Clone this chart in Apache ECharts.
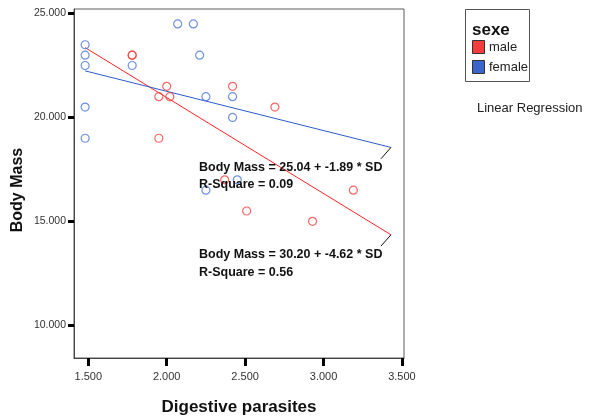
<!DOCTYPE html>
<html>
<head>
<meta charset="utf-8">
<script src="https://cdn.jsdelivr.net/npm/echarts@6/dist/echarts.min.js"></script>
<style>
  html, body { margin: 0; padding: 0; background: #fff; }
  #chart { width: 589px; height: 416px; }
</style>
</head>
<body>
<div id="chart"></div>
<script>
// Digestive parasites vs body mass, by sex
const maleX = [1.78, 1.78, 2.00, 1.95, 2.02, 2.42, 1.95, 2.69, 2.37, 3.19, 2.51, 2.93];
const maleY = [23.0, 23.0, 21.5, 21.0, 21.0, 21.5, 19.0, 20.5, 17.0, 16.5, 15.5, 15.0];

const femaleX = [1.48, 1.48, 1.48, 1.48, 1.48, 1.78, 2.07, 2.17, 2.21, 2.25, 2.42, 2.42, 2.45, 2.25];
const femaleY = [23.5, 23.0, 22.5, 20.5, 19.0, 22.5, 24.5, 24.5, 23.0, 21.0, 21.0, 20.0, 17.0, 16.5];

// Linear fits: Body Mass = intercept + slope * SD
const maleFit = { intercept: 30.20, slope: -4.62, r2: 0.56 };
const femaleFit = { intercept: 25.04, slope: -1.89, r2: 0.09 };
const fitSpan = [1.48, 3.43];

const xTicks = [1.5, 2.0, 2.5, 3.0, 3.5];
const yTicks = [10, 15, 20, 25];

const legendNames = ['male', 'female'];
const legendTitle = 'sexe';

const RED = '#f2403f';
const BLUE = '#4a76d6';
const RED_LINE = '#ff2222';
const BLUE_LINE = '#2d5ccc';
const RED_SWATCH = '#f53b3b';
const BLUE_SWATCH = '#3a66cc';

const FONT = '"Liberation Sans", Arial, sans-serif';

const zip = (xs, ys) => xs.map((x, i) => [x, ys[i]]);
const fitLine = f => fitSpan.map(x => [x, f.intercept + f.slope * x]);
const eqText = f => 'Body Mass = ' + f.intercept.toFixed(2) + ' + ' + f.slope.toFixed(2) + ' * SD';
const r2Text = f => 'R-Square = ' + f.r2.toFixed(2);

const chart = echarts.init(document.getElementById('chart'), null, { renderer: 'canvas' });

const option = {
  animation: false,
  backgroundColor: '#fff',
  textStyle: { fontFamily: FONT },
  grid: {
    left: 74, top: 9, width: 330, height: 349,
    containLabel: false, outerBoundsMode: 'none',
    show: true, borderColor: '#5a5a5a', borderWidth: 1
  },
  xAxis: {
    type: 'value',
    min: 1.409, max: 3.513,
    splitLine: { show: false },
    axisLine: { show: true, onZero: false, lineStyle: { color: '#444', width: 1 } },
    axisTick: { show: true, customValues: xTicks, length: 8, lineStyle: { color: '#000', width: 3 } },
    axisLabel: {
      customValues: xTicks, margin: 13, fontSize: 11, color: '#333',
      formatter: v => v.toFixed(3)
    },
    name: 'Digestive parasites',
    nameLocation: 'middle',
    nameGap: 41,
    nameTextStyle: { fontSize: 17, fontWeight: 'bold', color: '#111' }
  },
  yAxis: {
    type: 'value',
    min: 8.425, max: 25.22,
    splitLine: { show: false },
    axisLine: { show: true, onZero: false, lineStyle: { color: '#444', width: 1 } },
    axisTick: { show: true, customValues: yTicks, length: 6, lineStyle: { color: '#000', width: 3 } },
    axisLabel: {
      customValues: yTicks, margin: 8, fontSize: 10.5, color: '#333',
      formatter: v => v.toFixed(3)
    }
  },
  series: [
    {
      name: 'male fit', type: 'line', data: fitLine(maleFit), symbol: 'none',
      lineStyle: { color: RED_LINE, width: 1 }, z: 2, silent: true
    },
    {
      name: 'female fit', type: 'line', data: fitLine(femaleFit), symbol: 'none',
      lineStyle: { color: BLUE_LINE, width: 1 }, z: 2, silent: true
    },
    {
      name: 'male', type: 'scatter', data: zip(maleX, maleY),
      symbol: 'circle', symbolSize: 8,
      itemStyle: { color: 'rgba(0,0,0,0)', borderColor: RED, borderWidth: 1.2 }, z: 3
    },
    {
      name: 'female', type: 'scatter', data: zip(femaleX, femaleY),
      symbol: 'circle', symbolSize: 8,
      itemStyle: { color: 'rgba(0,0,0,0)', borderColor: BLUE, borderWidth: 1.2 }, z: 3
    }
  ]
};

chart.setOption(option);

// Fit equations with short leader lines, the y-axis title and the legend box
function annotations() {
  const els = [];
  const labelFont = 'bold 12.5px ' + FONT;
  [femaleFit, maleFit].forEach(f => {
    const end = fitLine(f)[1];
    const p = chart.convertToPixel({ gridIndex: 0 }, end);
    const q = [p[0] - 10, p[1] + 11.3];
    els.push({
      type: 'line', z: 10,
      shape: { x1: p[0], y1: p[1], x2: q[0], y2: q[1] },
      style: { stroke: '#111', lineWidth: 1 }
    });
    els.push({
      type: 'text', z: 10, x: 199, y: q[1] + 8.4,
      style: { text: eqText(f), font: labelFont, fill: '#111', verticalAlign: 'middle' }
    });
    els.push({
      type: 'text', z: 10, x: 199, y: q[1] + 26,
      style: { text: r2Text(f), font: labelFont, fill: '#111', verticalAlign: 'middle' }
    });
  });

  els.push({
    type: 'text', z: 10, x: 18, y: 190, rotation: Math.PI / 2,
    style: { text: 'Body Mass', font: 'bold 16px ' + FONT, fill: '#111', align: 'center', verticalAlign: 'middle' }
  });

  els.push({
    type: 'rect', z: 1,
    shape: { x: 465.5, y: 9.5, width: 64, height: 72 },
    style: { fill: '#fff', stroke: '#555', lineWidth: 1 }
  });
  els.push({
    type: 'text', z: 10, x: 472, y: 30,
    style: { text: legendTitle, font: 'bold 17px ' + FONT, fill: '#111', verticalAlign: 'middle' }
  });
  [RED_SWATCH, BLUE_SWATCH].forEach((c, i) => {
    const cy = 47 + i * 20;
    els.push({
      type: 'rect', z: 10,
      shape: { x: 472.5, y: cy - 6.5, width: 12, height: 13 },
      style: { fill: c, stroke: '#333', lineWidth: 1 }
    });
    els.push({
      type: 'text', z: 10, x: 489, y: cy,
      style: { text: legendNames[i], font: '13px ' + FONT, fill: '#222', verticalAlign: 'middle' }
    });
  });
  els.push({
    type: 'text', z: 10, x: 477, y: 108,
    style: { text: 'Linear Regression', font: '13px ' + FONT, fill: '#222', verticalAlign: 'middle' }
  });
  return els;
}

chart.setOption({ graphic: { elements: annotations() } });
</script>
</body>
</html>
